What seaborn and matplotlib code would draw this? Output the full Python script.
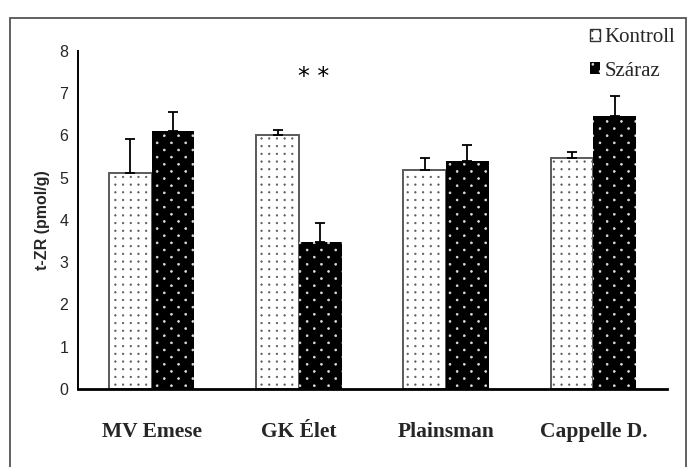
import warnings
import matplotlib
matplotlib.use("Agg")
import matplotlib.pyplot as plt
import matplotlib.hatch as mhatch
from matplotlib.path import Path
from matplotlib.patches import Patch, Rectangle
import numpy as np
import pandas as pd
import seaborn as sns

warnings.filterwarnings("ignore")

# t-ZR content of four wheat varieties under control and drought treatment
varieties = ["MV Emese", "GK Élet", "Plainsman", "Cappelle D."]
groups = ["Kontroll", "Száraz"]
kontroll = [5.12, 6.00, 5.18, 5.47]
szaraz = [6.10, 3.48, 5.40, 6.45]
kontroll_err = [0.80, 0.13, 0.29, 0.15]
szaraz_err = [0.45, 0.45, 0.38, 0.48]
yticks = [0, 1, 2, 3, 4, 5, 6, 7, 8]


class DotLattice(mhatch.HatchPatternBase):
    """Fine dot textures: ';' = square grid, ':' = sparse staggered lattice."""
    # rows, columns, staggered, dot radius (in hatch-tile units)
    specs = {";": (13, 13, False, 0.0075), ":": (14, 7, True, 0.0095)}

    def __init__(self, hatch, density):
        circ = Path.unit_circle()
        verts, codes = [], []
        for ch, (nrows, ncols, stagger, r) in self.specs.items():
            if ch not in hatch:
                continue
            for row in range(nrows + 1):
                y = row / nrows
                shift = (0.5 / ncols) if (stagger and row % 2) else 0.0
                for col in range(ncols + 1):
                    x = col / ncols + shift
                    if x > 1 + 1e-9:
                        continue
                    verts.append(circ.vertices * r + [x, y])
                    codes.append(circ.codes)
        if verts:
            self._v = np.concatenate(verts)
            self._c = np.concatenate(codes)
            self.num_vertices = len(self._v)
        else:
            self.num_vertices = 0

    def set_vertices_and_codes(self, vertices, codes):
        vertices[:] = self._v
        codes[:] = self._c


mhatch._hatch_types.append(DotLattice)

df = pd.DataFrame({
    "variety": varieties * 2,
    "group": [groups[0]] * 4 + [groups[1]] * 4,
    "value": kontroll + szaraz,
})

sns.set_theme(style="white")
plt.rcParams["hatch.linewidth"] = 0.5

fig = plt.figure(figsize=(6.92, 4.67), dpi=100)
ax = fig.add_axes([78 / 692, 1 - 389 / 467, (667 - 78) / 692, (389 - 51) / 467])

sns.barplot(data=df, x="variety", y="value", hue="group", order=varieties,
            hue_order=groups, width=0.58, gap=0, errorbar=None,
            palette=["white", "black"], legend=False, ax=ax)

# dotted white bars for control, dotted black bars for drought
n = len(varieties)
bars = ax.patches[:2 * n]
for i, b in enumerate(bars):
    if i < n:
        b.set_facecolor("white")
        b.set_edgecolor("#5a5a5a")
        b.set_linewidth(1.4)
        b.set_hatch(";")
    else:
        b.set_facecolor("black")
        b.set_edgecolor("#e0e0e0")
        b.set_linewidth(0)
        b.set_hatch(":")

# upper-only error bars
vals = kontroll + szaraz
errs = kontroll_err + szaraz_err
xs = [b.get_x() + b.get_width() / 2 for b in bars]
ax.errorbar(xs, vals, yerr=[np.zeros(len(errs)), errs], fmt="none",
            ecolor="black", elinewidth=1.3, capsize=3.5, capthick=1.3, zorder=5)

ax.set_ylim(0, 8)
ax.set_xlim(-0.5, 3.5)
ax.set_yticks(yticks)
ax.set_yticklabels([str(t) for t in yticks], fontfamily="Liberation Sans", fontsize=11.5)
ax.set_xticks(range(n))
ax.set_xticklabels(varieties, fontfamily="Liberation Serif", fontweight="bold", fontsize=15.5)
ax.set_xticks(np.arange(-0.5, n, 1.0), minor=True)
ax.tick_params(axis="x", which="major", length=0, pad=24)
ax.tick_params(axis="x", which="minor", length=6, width=1, color="black", direction="out")
ax.tick_params(axis="y", length=5, width=1, color="black", direction="out", pad=2)
ax.set_xlabel("")
ax.set_ylabel("t-ZR (pmol/g)", fontfamily="Liberation Sans", fontweight="bold",
              fontsize=11.5, labelpad=7)

for side in ["top", "right"]:
    ax.spines[side].set_visible(False)
ax.spines["left"].set_color("black")
ax.spines["left"].set_linewidth(1.4)
ax.spines["bottom"].set_color("black")
ax.spines["bottom"].set_linewidth(2)

# significance marker above GK Élet
ax.text(1.1, 7.38, "* *", ha="center", va="center", fontsize=17,
        fontfamily="DejaVu Sans", color="black")

# legend
handles = [
    Patch(facecolor="white", edgecolor="#333333", hatch=";", linewidth=1, label="Kontroll"),
    Patch(facecolor="black", edgecolor="#e0e0e0", hatch=":", linewidth=0, label="Száraz"),
]
fig.legend(handles=handles, loc="upper left", bbox_to_anchor=(590 / 692, 1 - 28 / 467),
           frameon=False, prop={"family": "Liberation Serif", "size": 15},
           handlelength=0.5, handleheight=0.5, handletextpad=0.2, labelspacing=0.7,
           borderaxespad=0, borderpad=0)

# outer frame
fig.patches.append(Rectangle((10 / 692, -0.1), 676 / 692, 1.1 - 18 / 467,
                             transform=fig.transFigure, fill=False,
                             edgecolor="#555555", linewidth=1.3, clip_on=False))

fig.savefig("out.png", dpi=100)
